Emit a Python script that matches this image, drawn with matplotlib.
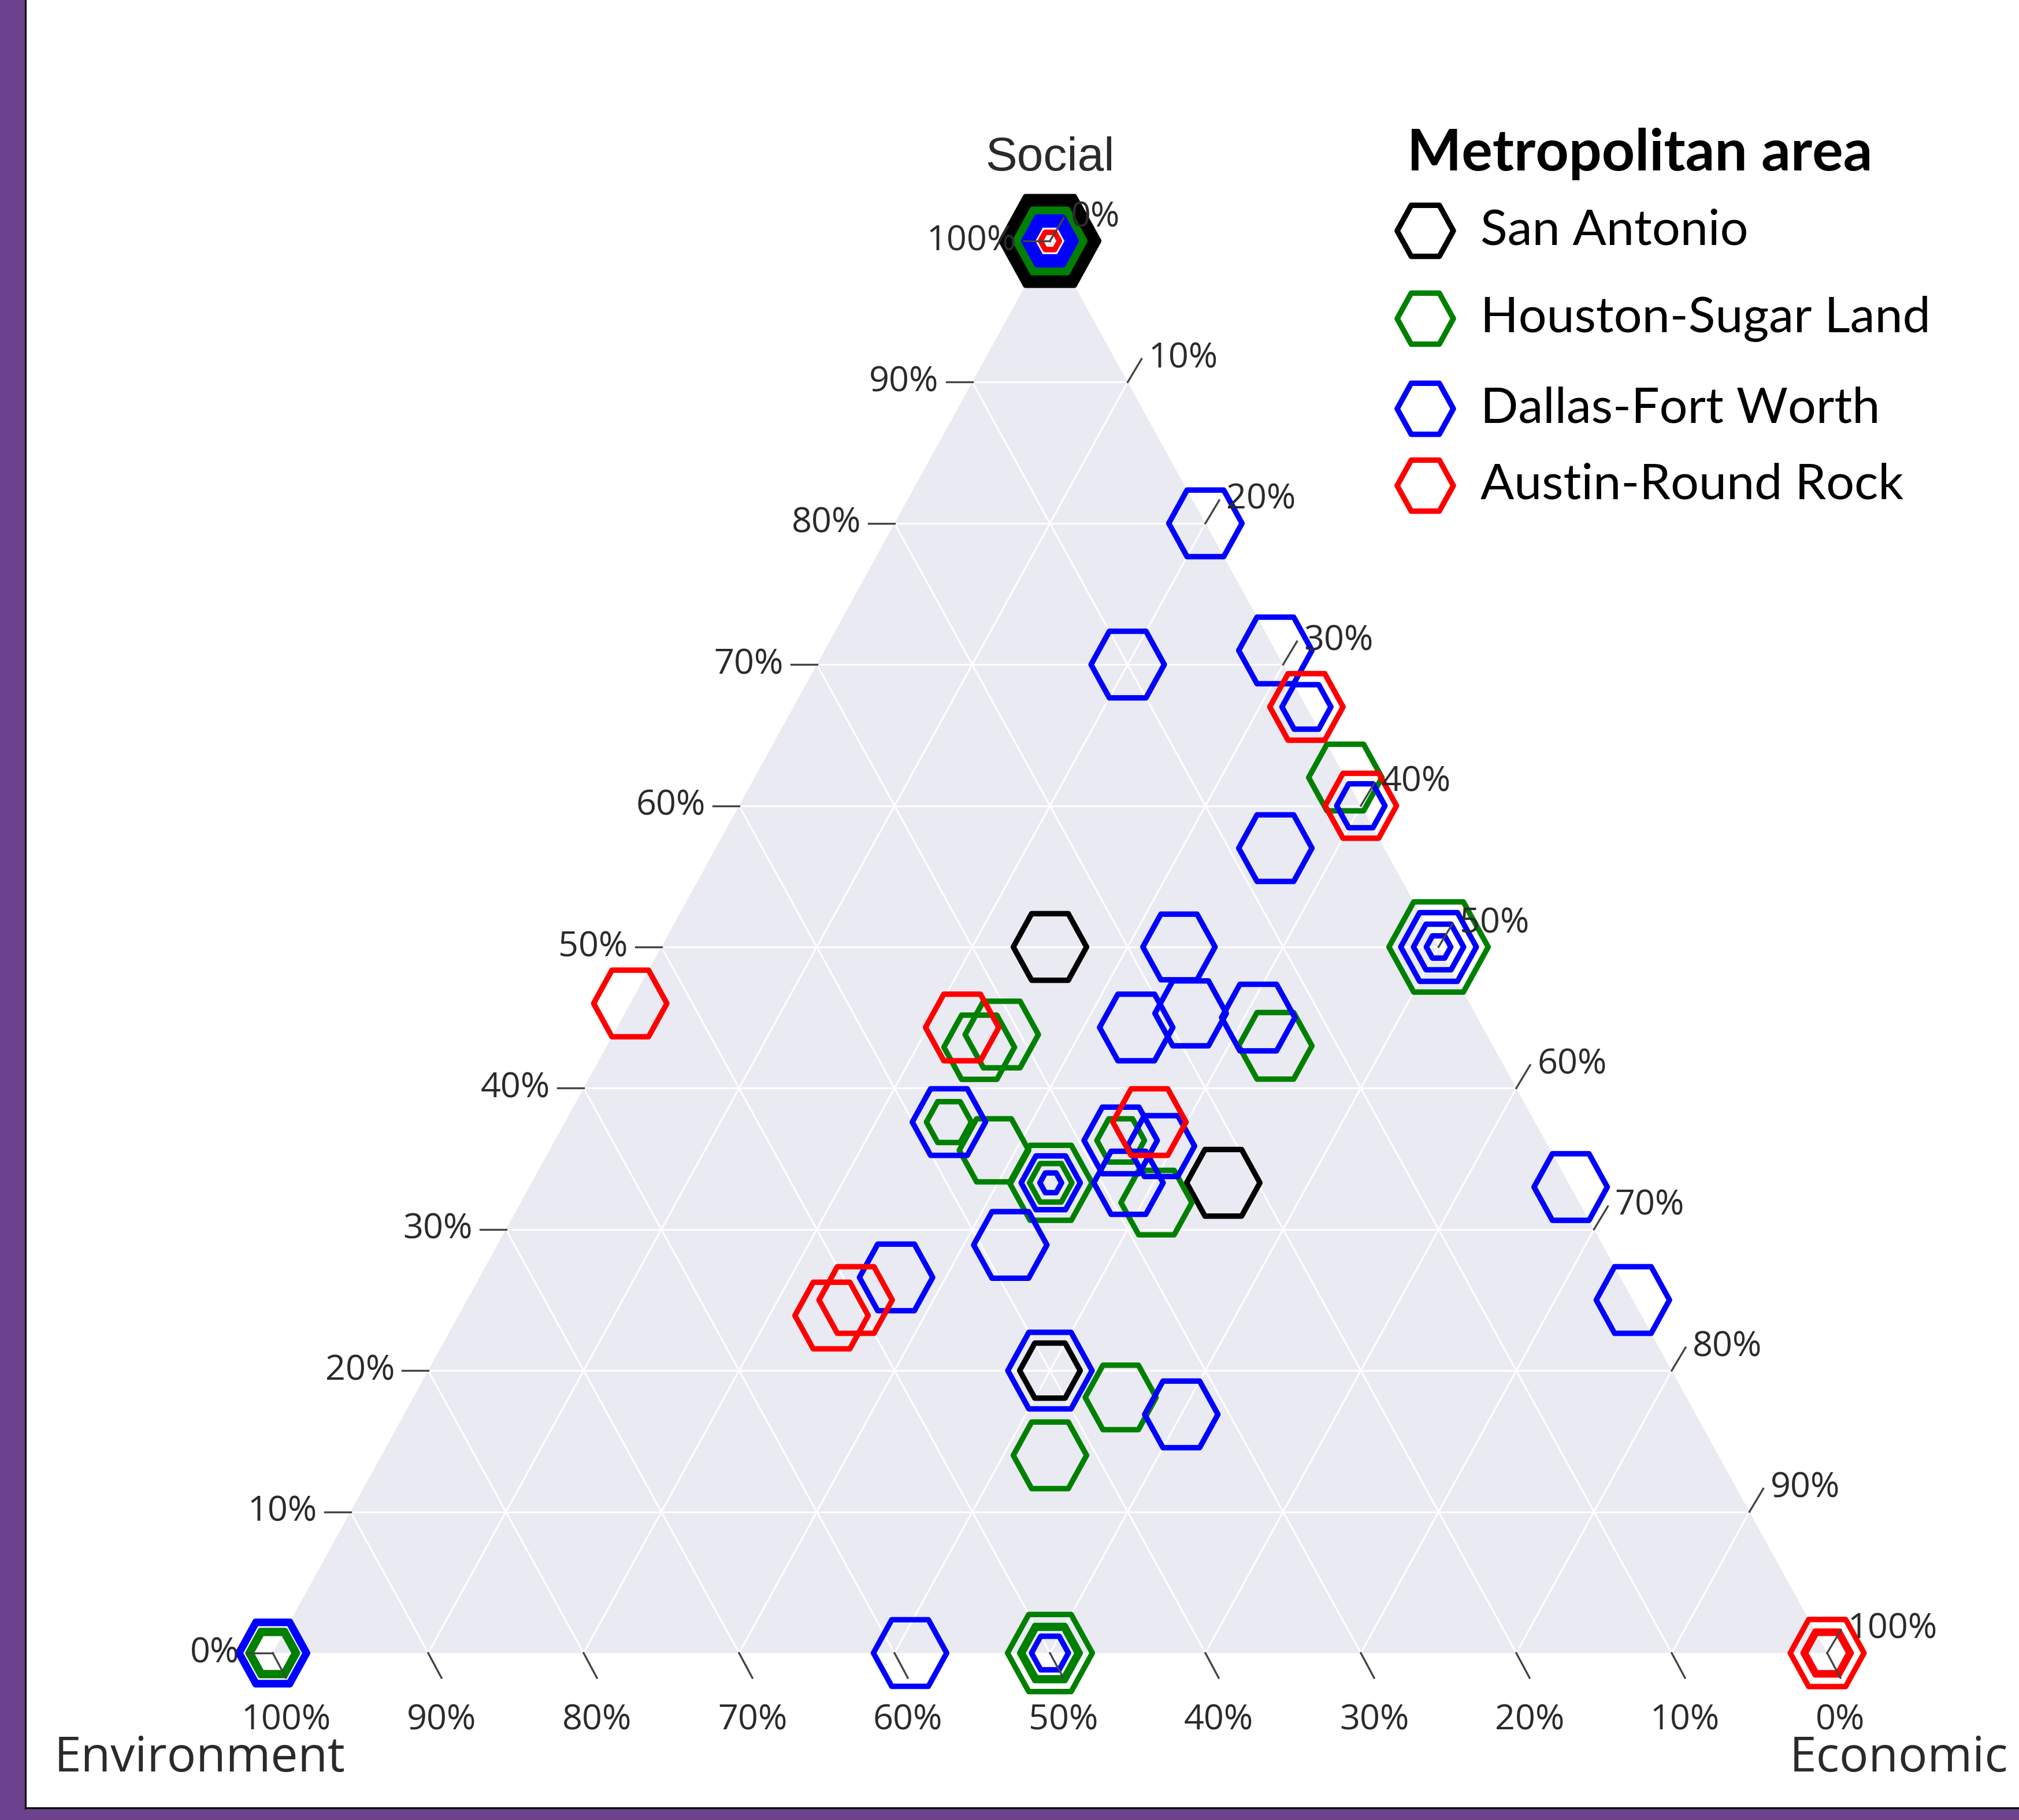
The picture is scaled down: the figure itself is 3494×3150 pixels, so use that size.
import numpy as np
import matplotlib.pyplot as plt
from matplotlib.path import Path
from matplotlib.markers import MarkerStyle
from matplotlib.patches import Polygon, Rectangle
from matplotlib.lines import Line2D

# ---- data: shares of social / environment / economic, marker size per entry ----
sa_social = [1.0, 1.0, 1.0, 0.5, 0.333, 0.2]
sa_environment = [0.0, 0.0, 0.0, 0.25, 0.222, 0.4]
sa_economic = [0.0, 0.0, 0.0, 0.25, 0.445, 0.4]
sa_size = [121.5, 108.6, 95.6, 91.3, 91.3, 75.5]

hou_social = [1.0, 1.0, 0.0, 0.0, 0.62, 0.5, 0.43, 0.429, 0.438, 0.376,
              0.356, 0.333, 0.333, 0.363, 0.319, 0.181, 0.14, 0.0, 0.0, 0.0]
hou_environment = [0.0, 0.0, 1.0, 1.0, 0.0, 0.0, 0.14, 0.331, 0.312, 0.377,
                   0.358, 0.333, 0.333, 0.273, 0.272, 0.364, 0.43, 0.5, 0.5, 0.5]
hou_economic = [0.0, 0.0, 0.0, 0.0, 0.38, 0.5, 0.43, 0.24, 0.25, 0.247,
                0.286, 0.334, 0.334, 0.364, 0.409, 0.455, 0.43, 0.5, 0.5, 0.5]
hou_size = [87.0, 75.5, 61.8, 53.9, 91.3, 123.7, 91.3, 88.0, 91.3, 56.0,
            86.5, 102.8, 52.8, 59.3, 88.4, 88.4, 91.3, 105.7, 75.5, 68.0]

dfw_social = [1.0, 1.0, 1.0, 0.0, 0.0, 0.8, 0.7, 0.71, 0.67, 0.6, 0.57,
              0.5, 0.5, 0.5, 0.5, 0.453, 0.443, 0.45, 0.376, 0.363, 0.359,
              0.333, 0.333, 0.333, 0.289, 0.266, 0.2, 0.169, 0.0, 0.0,
              0.33, 0.25]
dfw_environment = [0.0, 0.0, 0.0, 1.0, 1.0, 0.0, 0.1, 0.0, 0.0, 0.0, 0.07,
                   0.0, 0.0, 0.0, 0.167, 0.183, 0.223, 0.141, 0.377, 0.273, 0.249,
                   0.283, 0.333, 0.333, 0.381, 0.466, 0.4, 0.331, 0.59, 0.5,
                   0.0, 0.0]
dfw_economic = [0.0, 0.0, 0.0, 0.0, 0.0, 0.2, 0.2, 0.29, 0.33, 0.4, 0.36,
                0.5, 0.5, 0.5, 0.333, 0.364, 0.334, 0.409, 0.247, 0.364, 0.392,
                0.384, 0.334, 0.334, 0.33, 0.268, 0.4, 0.5, 0.41, 0.5,
                0.67, 0.75]
dfw_size = [65.4, 53.8, 43.8, 87.0, 81.0, 91.3, 91.3, 91.3, 61.0, 60.2, 91.3,
            94.2, 62.5, 30.5, 90.0, 89.0, 91.3, 91.3, 91.3, 91.3, 83.4,
            86.5, 73.7, 27.0, 91.3, 91.3, 105.0, 91.3, 91.3, 46.0,
            91.3, 91.3]

aus_social = [1.0, 0.0, 0.0, 0.0, 0.67, 0.6, 0.46, 0.443, 0.376, 0.239, 0.25]
aus_environment = [0.0, 0.0, 0.0, 0.0, 0.0, 0.0, 0.54, 0.335, 0.248, 0.521, 0.5]
aus_economic = [0.0, 1.0, 1.0, 1.0, 0.33, 0.4, 0.0, 0.222, 0.376, 0.24, 0.25]
aus_size = [23.6, 92.0, 60.0, 54.0, 91.3, 89.0, 91.3, 91.3, 91.3, 91.3, 91.3]

metros = ["San Antonio", "Houston-Sugar Land", "Dallas-Fort Worth", "Austin-Round Rock"]
colors = ["#000000", "#008000", "#0000FF", "#FF0000"]
series = [
    (sa_social, sa_environment, sa_economic, sa_size),
    (hou_social, hou_environment, hou_economic, hou_size),
    (dfw_social, dfw_environment, dfw_economic, dfw_size),
    (aus_social, aus_environment, aus_economic, aus_size),
]
ticks = np.arange(0, 101, 10)

# ---- figure ----
W, H = 3494, 3150
fig = plt.figure(figsize=(W / 100, H / 100), dpi=100)

# triangle box in pixels (left, bottom-edge y, width, height)
tx0, ty0, tw, th = 472, 2861, 2690, 2444
ax = fig.add_axes([tx0 / W, (H - ty0) / H, tw / W, th / H])
ax.set_xlim(0, 1)
ax.set_ylim(0, 1)
ax.axis("off")

px = 1.0 / tw  # one pixel in x data units
py = 1.0 / th  # one pixel in y data units


def to_xy(a, c):
    a = np.asarray(a, float)
    c = np.asarray(c, float)
    return c + a / 2, a


ax.add_patch(Polygon([(0, 0), (1, 0), (0.5, 1)], closed=True,
                     facecolor="#EAEAF2", edgecolor="none", zorder=0))

for k in ticks[1:-1] / 100:
    ax.plot([k / 2, 1 - k / 2], [k, k], color="white", lw=2.2, zorder=1)
    ax.plot([k, k + (1 - k) / 2], [0, 1 - k], color="white", lw=2.2, zorder=1)
    ax.plot([1 - k, (1 - k) / 2], [0, 1 - k], color="white", lw=2.2, zorder=1)

tick_col = "#444444"
lab_col = "#2a2a2a"
tick_font = dict(family="Open Sans", size=44, color=lab_col)

# left axis: Social
for t in ticks:
    a = t / 100
    x, y = a / 2, a
    ax.plot([x, x - 45 * px], [y, y], color=tick_col, lw=2.4, zorder=5, clip_on=False)
    ax.text(x - 58 * px, y, f"{t}%", ha="right", va="center", zorder=6, **tick_font)

# bottom axis: Environment
for t in ticks:
    b = t / 100
    x = 1 - b
    ax.plot([x, x + 23 * px], [0, -43 * py], color=tick_col, lw=2.4, zorder=5, clip_on=False)
    ax.text(x + 23 * px, -116 * py, f"{t}%", ha="center", va="center", zorder=6, **tick_font)

# right axis: Economic
for t in ticks:
    c = t / 100
    x, y = (1 + c) / 2, 1 - c
    ax.plot([x, x + 24 * px], [y, y + 40 * py], color=tick_col, lw=2.4, zorder=5, clip_on=False)
    ax.text(x + 36 * px, y + 41 * py, f"{t}%", ha="left", va="center", zorder=6, **tick_font)

ax.text(0.5, 1 + 143 * py, "Social", ha="center", va="center",
        family="Liberation Sans", size=59, color=lab_col)
ax.text(-378 * px, -183 * py, "Environment", ha="left", va="center",
        family="Open Sans", size=60.5, color=lab_col)
ax.text(1 - 65 * px, -183 * py, "Economic", ha="left", va="center",
        family="Open Sans", size=60.5, color=lab_col)

# flat-topped hexagon, slightly tall
hv = [(1, 0), (0.5, 0.909), (-0.5, 0.909), (-1, 0), (-0.5, -0.909), (0.5, -0.909), (1, 0)]
hexpath = Path(hv, [Path.MOVETO] + [Path.LINETO] * 5 + [Path.CLOSEPOLY])
hexmark = MarkerStyle(hexpath, joinstyle="miter")

for (soc, env, eco, size), col in zip(series, colors):
    x, y = to_xy(soc, eco)
    ax.scatter(x, y, s=np.asarray(size) ** 2, marker=hexmark, facecolors="none",
               edgecolors=col, linewidths=6.8, zorder=3, clip_on=False)

# legend
fig.text(2435 / W, 1 - 266 / H, "Metropolitan area", ha="left", va="center",
         family="Lato", weight="bold", size=72, color="black")
leg_y = [399, 551, 707, 840]
for name, col, yy in zip(metros, colors, leg_y):
    fig.add_artist(Line2D([2466 / W], [1 - yy / H], marker=hexmark, ms=70,
                          markerfacecolor="none", markeredgecolor=col, mew=6.8,
                          linestyle="none"))
    fig.text(2562 / W, 1 - yy / H, name, ha="left", va="center",
             family="Lato", size=62, color="black")

# purple frame on left and bottom
purple = "#6C418D"
fig.add_artist(Rectangle((0, 0), 43 / W, 1, transform=fig.transFigure,
                         facecolor=purple, edgecolor="none"))
fig.add_artist(Rectangle((0, 0), 1, 20 / H, transform=fig.transFigure,
                         facecolor=purple, edgecolor="none"))
fig.add_artist(Line2D([44 / W, 44 / W], [20 / H, 1], color="black", lw=2.2))
fig.add_artist(Line2D([44 / W, 1], [21 / H, 21 / H], color="black", lw=2.2))

fig.savefig("out.png", dpi=100, facecolor="white")
